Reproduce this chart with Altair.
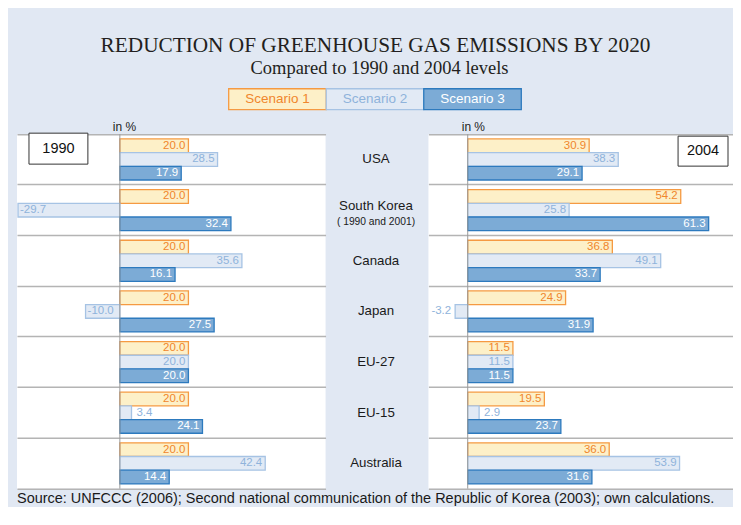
import altair as alt
import pandas as pd

# ---------------- data ----------------
countries = ["USA", "South Korea", "Canada", "Japan", "EU-27", "EU-15", "Australia"]
notes = ["", "( 1990 and 2001)", "", "", "", "", ""]
scenarios = ["Scenario 1", "Scenario 2", "Scenario 3"]

s1_1990 = [20.0, 20.0, 20.0, 20.0, 20.0, 20.0, 20.0]
s2_1990 = [28.5, -29.7, 35.6, -10.0, 20.0, 3.4, 42.4]
s3_1990 = [17.9, 32.4, 16.1, 27.5, 20.0, 24.1, 14.4]

s1_2004 = [30.9, 54.2, 36.8, 24.9, 11.5, 19.5, 36.0]
s2_2004 = [38.3, 25.8, 49.1, -3.2, 11.5, 2.9, 53.9]
s3_2004 = [29.1, 61.3, 33.7, 31.9, 11.5, 23.7, 31.6]

panel_years = ["1990", "2004"]
title_text = "REDUCTION OF GREENHOUSE GAS EMISSIONS BY 2020"
subtitle_text = "Compared to 1990 and 2004 levels"
unit_text = "in %"
source_text = ("Source: UNFCCC (2006); Second national communication of the "
               "Republic of Korea (2003); own calculations.")

# ---------------- style ----------------
SANS = "Liberation Sans"
SERIF = "Liberation Serif"
BG = "#e1e8f3"
fills = ["#fdf0c8", "#e2eaf5", "#7cabd6"]
strokes = ["#f59a42", "#a6c3e4", "#2d7abe"]
text_colors = ["#f0862c", "#8fb3db", "#ffffff"]
GRID = "#b4b4b4"
H = 355
TOP = 126      # space above the panels (title, legend)
BOTTOM = 18    # space below the panels (source line)
LABEL_EXPR = "(datum.value < 0 ? '-' : '') + format(abs(datum.value), '.1f')"


def long_df(a, b, c):
    rows = []
    for i, ctry in enumerate(countries):
        for sc, vals in zip(scenarios, [a, b, c]):
            rows.append({"country": ctry, "scenario": sc, "value": vals[i]})
    return pd.DataFrame(rows)


def panel(df, domain, width, year, box, unit_dx):
    y = alt.Y("country:N",
              scale=alt.Scale(domain=countries, paddingInner=0, paddingOuter=0),
              axis=alt.Axis(grid=True, bandPosition=0, labels=False, ticks=False,
                            domain=False, title=None, gridColor=GRID, gridWidth=1.5))
    yo = alt.YOffset("scenario:N",
                     scale=alt.Scale(domain=scenarios, paddingInner=0, paddingOuter=0.35))
    x = alt.X("value:Q", scale=alt.Scale(domain=domain, nice=False),
              axis=alt.Axis(labels=False, ticks=False, grid=False, title=None,
                            domainColor=GRID, domainWidth=1.5))
    fill = alt.Fill("scenario:N", scale=alt.Scale(domain=scenarios, range=fills), legend=None)
    stroke = alt.Stroke("scenario:N", scale=alt.Scale(domain=scenarios, range=strokes), legend=None)
    tcol = alt.Color("scenario:N", scale=alt.Scale(domain=scenarios, range=text_colors), legend=None)

    base = alt.Chart(df)
    bars = base.mark_bar(strokeWidth=1.3).encode(x=x, y=y, yOffset=yo, fill=fill, stroke=stroke)
    t = base.transform_calculate(lbl=LABEL_EXPR).encode(
        x=x, y=y, yOffset=yo, color=tcol, text="lbl:N")
    common = dict(font=SANS, fontSize=11.5, baseline="middle")
    t_in = t.transform_filter("datum.value >= 6").mark_text(align="right", dx=-3, **common)
    t_small = t.transform_filter("datum.value >= 0 && datum.value < 6").mark_text(align="left", dx=5, **common)
    t_sneg = t.transform_filter("datum.value < 0 && datum.value > -6").mark_text(align="right", dx=-4, **common)
    t_neg = t.transform_filter("datum.value <= -6").mark_text(align="left", dx=2, **common)

    zero = alt.Chart(pd.DataFrame({"z": [0.0]})).mark_rule(color="#9a9a9a", strokeWidth=1).encode(
        x=alt.X("z:Q", scale=alt.Scale(domain=domain, nice=False)))
    unit = alt.Chart(pd.DataFrame({"z": [0.0], "t": [unit_text]})).mark_text(
        align="left", baseline="middle", dx=unit_dx, font=SANS, fontSize=12, color="#222222").encode(
        x=alt.X("z:Q", scale=alt.Scale(domain=domain, nice=False)), y=alt.value(-7), text="t:N")
    ydf = pd.DataFrame({"t": [year]})
    bx = alt.Chart(ydf).mark_rect(fill="white", stroke="#333333", strokeWidth=1).encode(
        x=alt.value(box[0]), x2=alt.value(box[1]), y=alt.value(box[2]), y2=alt.value(box[3]))
    bt = alt.Chart(ydf).mark_text(font=SANS, fontSize=14.5, color="#111111", baseline="middle").encode(
        x=alt.value((box[0] + box[1]) / 2), y=alt.value((box[2] + box[3]) / 2), text="t:N")
    return alt.layer(bars, zero, t_in, t_small, t_sneg, t_neg, unit, bx, bt).properties(
        width=width, height=H, view=alt.ViewBackground(fill="white", stroke=None))


left = panel(long_df(s1_1990, s2_1990, s3_1990), [-30, 60], 309, panel_years[0], (12, 71, -1, 30), -7)
src = alt.Chart(pd.DataFrame({"t": [source_text]})).mark_text(
    align="left", baseline="middle", font=SANS, fontSize=14.5, color="#1a1a1a").encode(
    x=alt.value(0), y=alt.value(H + 10), text="t:N")
left = alt.layer(left, src)

right = panel(long_df(s1_2004, s2_2004, s3_2004), [-10, 67.5], 305, panel_years[1], (250, 300, 2, 32), -6)

# ---------------- middle column: country names, title, legend ----------------
mid_df = pd.DataFrame({"country": countries, "note": notes})
my = alt.Y("country:N", scale=alt.Scale(domain=countries, paddingInner=0, paddingOuter=0), axis=None)
mc = alt.Chart(mid_df)
name_font = dict(font=SANS, fontSize=13.3, color="#1a1a1a", baseline="middle")
name_plain = mc.transform_filter("datum.note == ''").mark_text(**name_font).encode(
    x=alt.value(50.5), y=my, text="country:N")
name_note = mc.transform_filter("datum.note != ''").mark_text(dy=-4, **name_font).encode(
    x=alt.value(50.5), y=my, text="country:N")
note_txt = mc.transform_filter("datum.note != ''").mark_text(
    font=SANS, fontSize=10.3, color="#1a1a1a", baseline="middle", dy=11.5).encode(
    x=alt.value(50.5), y=my, text="note:N")

leg_df = pd.DataFrame({"scenario": scenarios})
lx = alt.X("scenario:N", scale=alt.Scale(domain=scenarios, range=[-97, 196], paddingInner=0, paddingOuter=0), axis=None)
leg_rect = alt.Chart(leg_df).mark_rect(strokeWidth=1.3).encode(
    x=lx, y=alt.value(-45.5), y2=alt.value(-24.5),
    fill=alt.Fill("scenario:N", scale=alt.Scale(domain=scenarios, range=fills), legend=None),
    stroke=alt.Stroke("scenario:N", scale=alt.Scale(domain=scenarios, range=strokes), legend=None))
leg_text = alt.Chart(leg_df).mark_text(font=SANS, fontSize=13.5, baseline="middle").encode(
    x=lx, y=alt.value(-35), text="scenario:N",
    color=alt.Color("scenario:N", scale=alt.Scale(domain=scenarios, range=text_colors), legend=None))

ttl = alt.Chart(pd.DataFrame({"t": [title_text]})).mark_text(
    font=SERIF, fontSize=21.3, color="#231f20", baseline="alphabetic").encode(
    x=alt.value(50), y=alt.value(-82), text="t:N")
sub = alt.Chart(pd.DataFrame({"t": [subtitle_text]})).mark_text(
    font=SERIF, fontSize=18.5, color="#231f20", baseline="alphabetic").encode(
    x=alt.value(54), y=alt.value(-60), text="t:N")

# invisible frame that fixes the overall extent of the figure
frame = alt.Chart(pd.DataFrame({"k": [0]})).mark_rect(opacity=0).encode(
    x=alt.value(0), x2=alt.value(1), y=alt.value(-TOP), y2=alt.value(H + BOTTOM))

mid = alt.layer(frame, name_plain, name_note, note_txt, leg_rect, leg_text, ttl, sub).properties(
    width=103, height=H)

chart = alt.hconcat(left, mid, right, spacing=0, bounds="flush").properties(
    padding={"left": 9, "top": 0, "right": 0, "bottom": 0}
).resolve_scale(x="independent", y="independent").configure(
    background=BG
).configure_view(stroke=None)

chart.save("out.html", embed_options={"renderer": "svg", "actions": False})
